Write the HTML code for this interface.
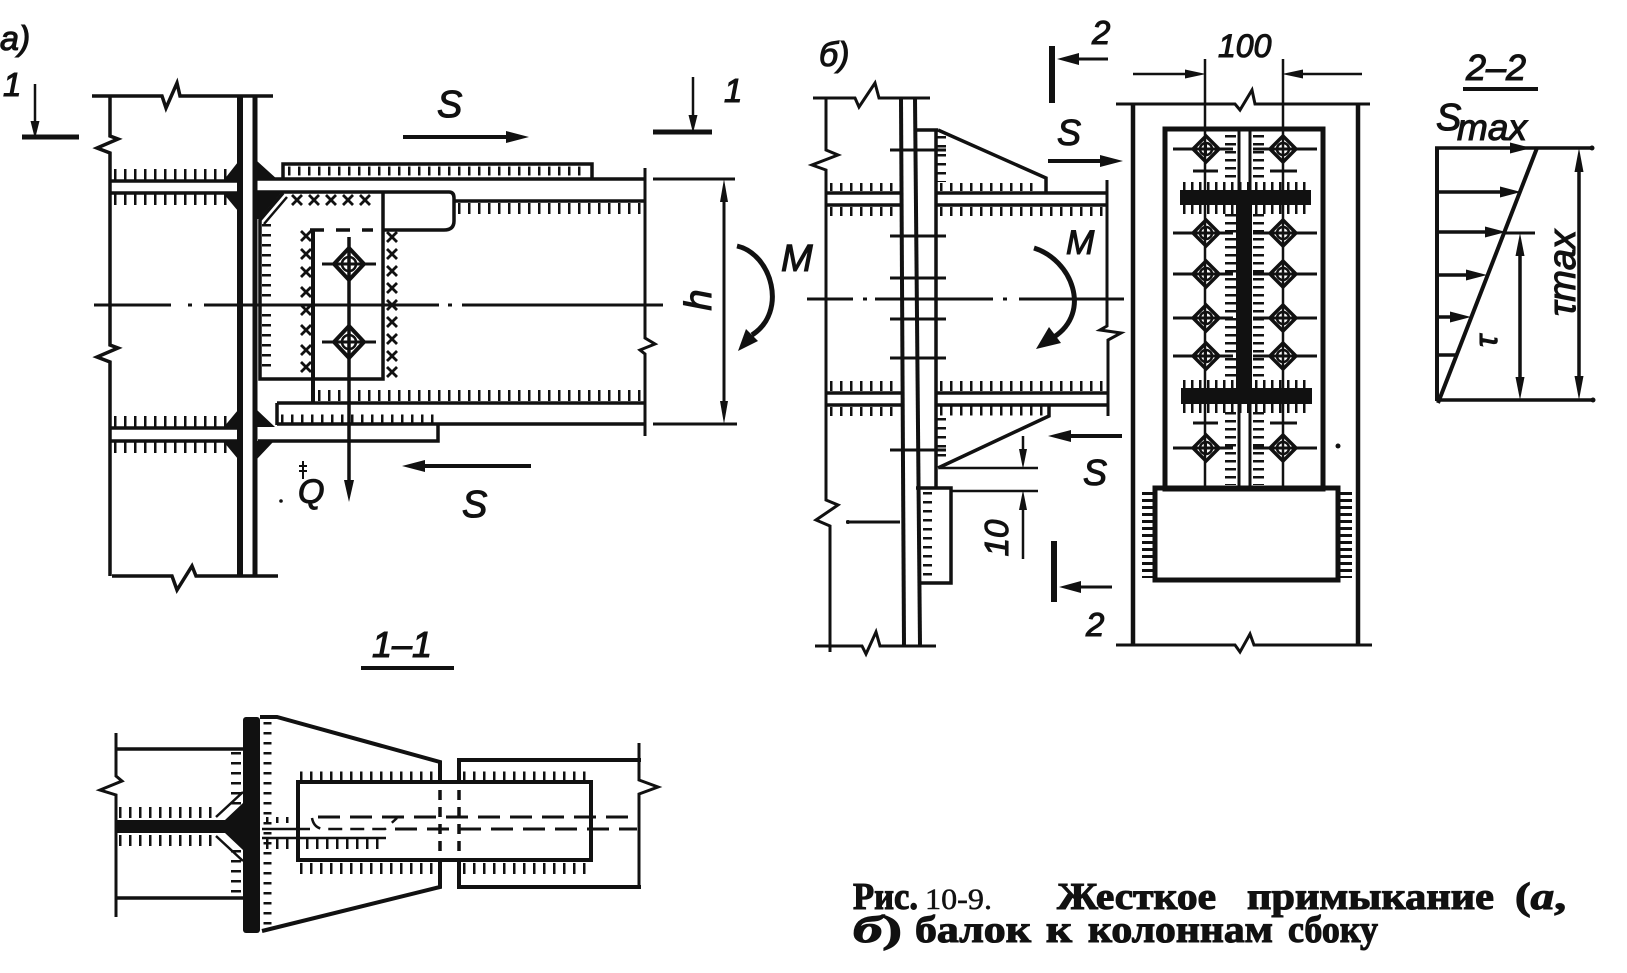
<!DOCTYPE html>
<html><head><meta charset="utf-8"><style>
html,body{margin:0;padding:0;background:#fff;}
svg{display:block;}
.t{font-family:"Liberation Sans","DejaVu Sans",sans-serif;font-style:italic;fill:#111;stroke:#111;stroke-width:1.1;}
.c{font-family:"Liberation Serif","DejaVu Serif",serif;font-weight:bold;fill:#111;stroke:#111;stroke-width:1.1;}
.cr{font-family:"Liberation Serif","DejaVu Serif",serif;font-weight:normal;fill:#111;stroke:#111;stroke-width:0.5;}
</style></head><body>
<svg width="1627" height="973" viewBox="0 0 1627 973" xmlns="http://www.w3.org/2000/svg">
<defs>
<g id="bA"><path d="M0,-16 L15,0 L0,16 L-15,0 Z" stroke-width="4"/><circle r="7" stroke-width="2.5"/><path d="M-7,0 H7 M0,-7 V7" stroke-width="2"/></g>
<g id="bB"><path d="M0,-13 L13,0 L0,13 L-13,0 Z" stroke-width="3.5"/><circle r="6" stroke-width="2.5"/><path d="M-6,0 H6 M0,-6 V6" stroke-width="2"/></g>
<path id="xm" d="M-5,-5 L5,5 M5,-5 L-5,5" stroke-width="2.8"/>
</defs>
<rect width="1627" height="973" fill="#fff"/>

<g stroke="#111" stroke-width="3.5" fill="none" stroke-linejoin="miter">

<!-- ================= PART a) ================= -->
<line x1="35" y1="84" x2="35" y2="124" stroke-width="2.5"/>
<line x1="22" y1="137" x2="79" y2="137" stroke-width="5"/>
<line x1="693" y1="77" x2="693" y2="118" stroke-width="2.5"/>
<line x1="653" y1="132" x2="712" y2="132" stroke-width="5"/>
<line x1="403" y1="137" x2="510" y2="137" stroke-width="4"/>

<path d="M92,96 H162 L166,108 L177,83 L180,96 H273"/>
<path d="M110,96 V136 L118,139 L97,148 L110,153 V345 L118,348 L97,357 L110,362 V576"/>
<path d="M112,576 H172 L177,590 L192,566 L196,576 H278"/>
<line x1="240" y1="96" x2="240" y2="576" stroke-width="6"/>
<line x1="255" y1="96" x2="255" y2="576" stroke-width="5"/>
<path d="M110,181 H237 M110,193 H237 M110,428 H237 M110,441 H237"/>

<path d="M283,180 V164 H592 V180"/>
<line x1="257" y1="179" x2="645" y2="179"/>
<path d="M257,192 H449 Q454,192 454,198 V221 Q454,230 444,230 H383"/>
<line x1="454" y1="201" x2="645" y2="201"/>
<path d="M283,193 L260,220 V379 H383 V192"/>
<line x1="287" y1="197" x2="264" y2="224" stroke-width="2.5"/>
<line x1="310" y1="230" x2="373" y2="230" stroke-dasharray="14 12"/>
<line x1="313" y1="230" x2="313" y2="403" stroke-width="4"/>
<line x1="322" y1="264" x2="376" y2="264" stroke-width="3"/>
<line x1="322" y1="342" x2="376" y2="342" stroke-width="3"/>
<line x1="349" y1="237" x2="349" y2="484" stroke-width="3.5"/>
<use href="#bA" x="349" y="264"/>
<use href="#bA" x="349" y="342"/>
<use href="#xm" x="297" y="200"/><use href="#xm" x="314" y="200"/><use href="#xm" x="331" y="200"/><use href="#xm" x="348" y="200"/><use href="#xm" x="365" y="200"/>
<use href="#xm" x="306" y="236"/><use href="#xm" x="306" y="254"/><use href="#xm" x="306" y="272"/><use href="#xm" x="306" y="292"/><use href="#xm" x="306" y="310"/><use href="#xm" x="306" y="330"/><use href="#xm" x="306" y="350"/><use href="#xm" x="306" y="367"/>
<use href="#xm" x="392" y="237"/><use href="#xm" x="392" y="254"/><use href="#xm" x="392" y="271"/><use href="#xm" x="392" y="288"/><use href="#xm" x="392" y="305"/><use href="#xm" x="392" y="322"/><use href="#xm" x="392" y="339"/><use href="#xm" x="392" y="356"/><use href="#xm" x="392" y="372"/>

<g stroke-width="3">
<line x1="94" y1="305" x2="171" y2="305"/>
<line x1="188" y1="305" x2="192" y2="305"/>
<line x1="204" y1="305" x2="439" y2="305"/>
<line x1="448" y1="305" x2="452" y2="305"/>
<line x1="462" y1="305" x2="663" y2="305"/>
</g>

<line x1="277" y1="403" x2="645" y2="403"/>
<line x1="277" y1="403" x2="277" y2="425"/>
<line x1="277" y1="424" x2="645" y2="424"/>
<path d="M258,441 H438 V424"/>
<path d="M645,168 V338 L655,344 L640,350 L645,354 V436" stroke-width="3"/>

<g stroke-width="3">
<line x1="653" y1="179" x2="735" y2="179"/>
<line x1="653" y1="424" x2="737" y2="424"/>
<line x1="724" y1="198" x2="724" y2="405"/>
</g>
<path d="M737,246 C772,254 788,312 752,335" stroke-width="5"/>
<line x1="418" y1="466" x2="531" y2="466" stroke-width="4"/>
<path d="M303,461 V479 M299,466 H307 M299,471 H307" stroke-width="2"/>

<!-- ================= SECTION 1-1 ================= -->
<line x1="361" y1="668" x2="454" y2="668" stroke-width="4"/>
<path d="M116,733 V776 L122,781 L100,790 L116,795 V917" stroke-width="3"/>
<line x1="116" y1="749" x2="243" y2="749"/>
<line x1="116" y1="898" x2="243" y2="898"/>
<line x1="216" y1="817" x2="243" y2="792" stroke-width="2.5"/>
<line x1="216" y1="836" x2="243" y2="861" stroke-width="2.5"/>
<path d="M260,717 H277 L440,762 V782" stroke-width="4"/>
<path d="M262,931 L440,887 V860" stroke-width="4"/>
<rect x="298" y="782" width="293" height="78" stroke-width="4"/>
<path d="M641,760 H459 V782 M459,860 V887 H641" stroke-width="4"/>
<path d="M639,743 V780 L658,787 L639,794 V887" stroke-width="3"/>
<g stroke-dasharray="10 7" stroke-width="3.5">
<line x1="440" y1="790" x2="440" y2="858"/>
<line x1="459" y1="790" x2="459" y2="858"/>
</g>
<g stroke-dasharray="22 10" stroke-width="3">
<line x1="318" y1="817" x2="637" y2="817"/>
<line x1="395" y1="829" x2="637" y2="829"/>
</g>
<path d="M312,818 Q314,829 325,829 H385 L397,818" stroke-width="2.5" stroke-dasharray="14 8"/>
<line x1="262" y1="829" x2="310" y2="829" stroke-width="2.5"/>
<line x1="262" y1="838" x2="386" y2="838" stroke-width="2.5"/>

<!-- ================= PART b) ================= -->
<line x1="1052" y1="46" x2="1052" y2="103" stroke-width="6"/>
<line x1="1108" y1="59" x2="1072" y2="59" stroke-width="3"/>
<line x1="1054" y1="541" x2="1054" y2="602" stroke-width="6"/>
<line x1="1112" y1="587" x2="1074" y2="587" stroke-width="3"/>

<path d="M813,98 H855 L859,107 L875,83 L879,98 H930" stroke-width="3"/>
<path d="M826,98 V150 L838,155 L812,165 L826,170 V500 L838,505 L816,520 L830,526 V652" stroke-width="3"/>
<path d="M815,646 H862 L866,654 L876,632 L880,646 H936" stroke-width="3"/>
<line x1="901" y1="98" x2="904" y2="646" stroke-width="4"/>
<line x1="915" y1="98" x2="920" y2="646" stroke-width="4"/>
<path d="M915,130 H938 M936,130 V488 M916,488 H951 V583 H920"/>
<g stroke-width="3">
<line x1="890" y1="150" x2="946" y2="150"/>
<line x1="890" y1="236" x2="946" y2="236"/>
<line x1="890" y1="278" x2="946" y2="278"/>
<line x1="890" y1="319" x2="946" y2="319"/>
<line x1="890" y1="358" x2="946" y2="358"/>
<line x1="890" y1="450" x2="946" y2="450"/>
<line x1="846" y1="522" x2="900" y2="522"/>
</g>
<path d="M938,130 L1046,178 V193"/>
<path d="M1049,405 V416 L938,468"/>
<path d="M826,193 H901 M826,205 H901 M826,393 H901 M826,405 H901"/>
<path d="M936,193 H1107 M936,205 H1107 M936,393 H1107 M936,405 H1107"/>
<path d="M1107,180 V326 L1100,330 L1121,333 L1108,340 V416" stroke-width="3"/>
<g stroke-width="2.5">
<line x1="940" y1="468" x2="1038" y2="468"/>
<line x1="951" y1="491" x2="1038" y2="491"/>
<line x1="1023" y1="436" x2="1023" y2="452"/>
<line x1="1023" y1="507" x2="1023" y2="559"/>
</g>
<g stroke-width="3">
<line x1="807" y1="299" x2="853" y2="299"/>
<line x1="863" y1="299" x2="867" y2="299"/>
<line x1="875" y1="299" x2="993" y2="299"/>
<line x1="1003" y1="299" x2="1007" y2="299"/>
<line x1="1019" y1="299" x2="1124" y2="299"/>
</g>
<path d="M1034,248 C1072,260 1092,312 1054,337" stroke-width="5"/>
<line x1="1048" y1="161" x2="1104" y2="161" stroke-width="4"/>
<line x1="1122" y1="436" x2="1066" y2="436" stroke-width="4"/>

<!-- ================= SECTION 2-2 column ================= -->
<path d="M1116,104 H1235 L1240,110 L1252,90 L1255,104 H1370" stroke-width="3"/>
<path d="M1116,645 H1235 L1240,652 L1250,634 L1254,645 H1372" stroke-width="3"/>
<line x1="1133" y1="103" x2="1133" y2="645" stroke-width="4.5"/>
<line x1="1358" y1="103" x2="1358" y2="645" stroke-width="4.5"/>
<g stroke-width="2.5">
<line x1="1205" y1="59" x2="1205" y2="489"/>
<line x1="1283" y1="59" x2="1283" y2="489"/>
<line x1="1133" y1="74" x2="1188" y2="74"/>
<line x1="1300" y1="74" x2="1362" y2="74"/>
</g>
<rect x="1165" y="129" width="158" height="360" stroke-width="5"/>
<line x1="1239" y1="129" x2="1239" y2="489" stroke-width="3"/>
<line x1="1250" y1="129" x2="1250" y2="489" stroke-width="3"/>
<g stroke-width="3">
<line x1="1173" y1="149" x2="1233" y2="149"/><line x1="1253" y1="149" x2="1317" y2="149"/>
<line x1="1173" y1="233" x2="1233" y2="233"/><line x1="1253" y1="233" x2="1317" y2="233"/>
<line x1="1173" y1="274" x2="1233" y2="274"/><line x1="1253" y1="274" x2="1317" y2="274"/>
<line x1="1173" y1="318" x2="1233" y2="318"/><line x1="1253" y1="318" x2="1317" y2="318"/>
<line x1="1173" y1="356" x2="1233" y2="356"/><line x1="1253" y1="356" x2="1317" y2="356"/>
<line x1="1173" y1="448" x2="1233" y2="448"/><line x1="1253" y1="448" x2="1317" y2="448"/>
<line x1="1193" y1="171" x2="1218" y2="171"/><line x1="1270" y1="171" x2="1297" y2="171"/>
<line x1="1193" y1="423" x2="1218" y2="423"/><line x1="1270" y1="423" x2="1297" y2="423"/>
</g>
<use href="#bB" x="1206" y="149"/><use href="#bB" x="1283" y="149"/>
<use href="#bB" x="1206" y="233"/><use href="#bB" x="1283" y="233"/>
<use href="#bB" x="1206" y="274"/><use href="#bB" x="1283" y="274"/>
<use href="#bB" x="1206" y="318"/><use href="#bB" x="1283" y="318"/>
<use href="#bB" x="1206" y="356"/><use href="#bB" x="1283" y="356"/>
<use href="#bB" x="1206" y="448"/><use href="#bB" x="1283" y="448"/>
<rect x="1155" y="488" width="183" height="92" stroke-width="5"/>

<!-- ================= 2-2 diagram ================= -->
<line x1="1463" y1="89" x2="1538" y2="89" stroke-width="4"/>
<line x1="1437" y1="148" x2="1437" y2="401" stroke-width="4"/>
<line x1="1435" y1="148" x2="1592" y2="148" stroke-width="3.5"/>
<line x1="1537" y1="148" x2="1438" y2="403" stroke-width="4"/>
<line x1="1438" y1="400" x2="1593" y2="400" stroke-width="3.5"/>
<g stroke-width="3.5">
<line x1="1437" y1="192" x2="1502" y2="192"/>
<line x1="1437" y1="232" x2="1487" y2="232"/>
<line x1="1437" y1="275" x2="1468" y2="275"/>
<line x1="1437" y1="317" x2="1452" y2="317"/>
<line x1="1437" y1="355" x2="1456" y2="355"/>
<line x1="1505" y1="233" x2="1535" y2="233" stroke-width="3"/>
<line x1="1520" y1="252" x2="1520" y2="381"/>
<line x1="1579" y1="168" x2="1579" y2="380"/>
</g>

<!-- ================= TICKS ================= -->
<g stroke-linecap="butt" stroke-dasharray="2.5 7.5">
<line x1="114" y1="174.5" x2="228" y2="174.5" stroke-width="11"/>
<line x1="114" y1="199.5" x2="228" y2="199.5" stroke-width="11"/>
<line x1="114" y1="421.5" x2="228" y2="421.5" stroke-width="11"/>
<line x1="114" y1="447.5" x2="228" y2="447.5" stroke-width="11"/>
<line x1="288" y1="171" x2="588" y2="171" stroke-width="9"/>
<line x1="458" y1="208.5" x2="642" y2="208.5" stroke-width="11"/>
<line x1="318" y1="395.5" x2="642" y2="395.5" stroke-width="11"/>
<line x1="281" y1="419" x2="436" y2="419" stroke-width="9"/>
<line x1="266.5" y1="224" x2="266.5" y2="372" stroke-width="9"/>
<line x1="119" y1="812.5" x2="214" y2="812.5" stroke-width="11"/>
<line x1="119" y1="840.5" x2="214" y2="840.5" stroke-width="11"/>
<line x1="236" y1="752" x2="236" y2="806" stroke-width="10"/>
<line x1="236" y1="850" x2="236" y2="896" stroke-width="10"/>
<line x1="267.5" y1="722" x2="267.5" y2="928" stroke-width="8"/>
<line x1="300" y1="776" x2="437" y2="776" stroke-width="9"/>
<line x1="463" y1="776" x2="589" y2="776" stroke-width="9"/>
<line x1="300" y1="868.5" x2="437" y2="868.5" stroke-width="11"/>
<line x1="463" y1="868.5" x2="589" y2="868.5" stroke-width="11"/>
<line x1="266" y1="844" x2="384" y2="844" stroke-width="10"/>
<line x1="266" y1="820" x2="292" y2="820" stroke-width="6"/>
<line x1="830" y1="187" x2="898" y2="187" stroke-width="8"/>
<line x1="830" y1="211.5" x2="898" y2="211.5" stroke-width="9"/>
<line x1="830" y1="386" x2="898" y2="386" stroke-width="10"/>
<line x1="830" y1="411.5" x2="898" y2="411.5" stroke-width="9"/>
<line x1="940" y1="187" x2="1040" y2="187" stroke-width="8"/>
<line x1="940" y1="211.5" x2="1104" y2="211.5" stroke-width="9"/>
<line x1="940" y1="386" x2="1104" y2="386" stroke-width="10"/>
<line x1="940" y1="411" x2="1043" y2="411" stroke-width="9"/>
</g>
<g stroke-linecap="butt" stroke-dasharray="2.5 6.5">
<line x1="941.5" y1="136" x2="941.5" y2="182" stroke-width="9"/>
<line x1="941.5" y1="418" x2="941.5" y2="462" stroke-width="9"/>
<line x1="927.5" y1="492" x2="927.5" y2="580" stroke-width="9"/>
</g>
<g stroke-linecap="butt" stroke-dasharray="2.5 5.5">
<line x1="1230.5" y1="135" x2="1230.5" y2="182" stroke-width="11"/>
<line x1="1230.5" y1="214" x2="1230.5" y2="380" stroke-width="11"/>
<line x1="1230.5" y1="412" x2="1230.5" y2="485" stroke-width="11"/>
<line x1="1258.5" y1="135" x2="1258.5" y2="182" stroke-width="11"/>
<line x1="1258.5" y1="214" x2="1258.5" y2="380" stroke-width="11"/>
<line x1="1258.5" y1="412" x2="1258.5" y2="485" stroke-width="11"/>
<line x1="1183" y1="186" x2="1309" y2="186" stroke-width="8"/>
<line x1="1183" y1="209.5" x2="1309" y2="209.5" stroke-width="9"/>
<line x1="1183" y1="384" x2="1310" y2="384" stroke-width="8"/>
<line x1="1183" y1="408.5" x2="1310" y2="408.5" stroke-width="9"/>
</g>
<g stroke-linecap="butt" stroke-dasharray="3 4">
<line x1="1148.5" y1="492" x2="1148.5" y2="578" stroke-width="13"/>
<line x1="1345.5" y1="492" x2="1345.5" y2="578" stroke-width="13"/>
</g>
</g>

<!-- ================= FILLED SHAPES ================= -->
<g fill="#111" stroke="none">
<polygon points="223,181 238,181 238,162"/>
<polygon points="223,193 238,193 238,211"/>
<polygon points="223,428 238,428 238,410"/>
<polygon points="223,441 238,441 238,459"/>
<polygon points="257,161 257,180 278,180"/>
<polygon points="257,193 281,193 259,219 257,219"/>
<polygon points="257,410 257,427 275,427"/>
<polygon points="257,441 257,459 274,441"/>
<polygon points="35,139 30.5,121 39.5,121"/>
<polygon points="693,133 688.5,115 697.5,115"/>
<polygon points="529,137 506,131 506,143"/>
<polygon points="402,466 425,460 425,472"/>
<polygon points="349,502 344,480 354,480"/>
<polygon points="724,179 720,202 728,202"/>
<polygon points="724,424 720,401 728,401"/>
<polygon points="738,351 758,341 746,329"/>
<circle cx="281" cy="501" r="1.8"/>
<rect x="243" y="717" width="17" height="216" rx="3"/>
<rect x="116" y="820" width="127" height="13"/>
<polygon points="225,820 243,803 243,820"/>
<polygon points="225,833 243,850 243,833"/>
<polygon points="1057,59 1079,53 1079,65"/>
<polygon points="1059,587 1081,581 1081,593"/>
<polygon points="1123,161 1100,155 1100,167"/>
<polygon points="1048,436 1071,430 1071,442"/>
<polygon points="1023,469 1019,449 1027,449"/>
<polygon points="1023,490 1019,510 1027,510"/>
<polygon points="1036,349 1049,327 1061,343"/>
<polygon points="1206,74 1185,69.5 1185,78.5"/>
<polygon points="1282,74 1303,69.5 1303,78.5"/>
<rect x="1236" y="200" width="16" height="192"/>
<rect x="1180" y="190" width="131" height="15"/>
<rect x="1181" y="388" width="131" height="16"/>
<circle cx="1338" cy="446" r="2.5"/>
<circle cx="848" cy="522" r="2"/>
<polygon points="1531,148 1510,142.5 1510,153.5"/>
<polygon points="1521,192 1500,186.5 1500,197.5"/>
<polygon points="1506,232 1485,226.5 1485,237.5"/>
<polygon points="1487,275 1466,269.5 1466,280.5"/>
<polygon points="1471,317 1450,311.5 1450,322.5"/>
<polygon points="1520,233 1515.5,256 1524.5,256"/>
<polygon points="1520,400 1515.5,377 1524.5,377"/>
<polygon points="1579,148 1574.5,172 1583.5,172"/>
<polygon points="1579,400 1574.5,376 1583.5,376"/>
<circle cx="1592" cy="148" r="2.5"/>
<circle cx="1593" cy="400" r="2.5"/>
</g>

<!-- ================= LABELS ================= -->
<text class="t" x="0" y="50" font-size="34">а)</text>
<text class="t" x="3" y="96" font-size="33">1</text>
<text class="t" x="724" y="102" font-size="33">1</text>
<text class="t" x="437" y="117" font-size="38">S</text>
<text class="t" x="781" y="271" font-size="38">M</text>
<text class="t" transform="translate(711,300) rotate(-90)" text-anchor="middle" font-size="38">h</text>
<text class="t" x="298" y="503" font-size="34">Q</text>
<text class="t" x="462" y="517" font-size="38">S</text>
<text class="t" x="372" y="657" font-size="36">1–1</text>

<text class="t" x="819" y="66" font-size="34">б)</text>
<text class="t" x="1092" y="44" font-size="33">2</text>
<text class="t" x="1086" y="636" font-size="33">2</text>
<text class="t" x="1057" y="145" font-size="36">S</text>
<text class="t" x="1066" y="254" font-size="34">M</text>
<text class="t" x="1083" y="485" font-size="36">S</text>
<text class="t" transform="translate(1008,538) rotate(-90)" text-anchor="middle" font-size="33">10</text>
<text class="t" x="1218" y="57" font-size="32">100</text>

<text class="t" x="1466" y="80" font-size="36">2–2</text>
<text class="t" x="1436" y="130" font-size="38">S</text>
<text class="t" x="1457" y="140" font-size="37">max</text>
<text class="t" transform="translate(1497,341) rotate(-90)" text-anchor="middle" font-size="32">τ</text>
<text class="t" transform="translate(1575,273) rotate(-90)" text-anchor="middle" font-size="38">τmax</text>

<!-- caption -->
<text class="c" x="853" y="909" font-size="38" textLength="65" lengthAdjust="spacingAndGlyphs">Рис.</text>
<text class="cr" x="925" y="909" font-size="30" textLength="67" lengthAdjust="spacingAndGlyphs">10-9.</text>
<text class="c" x="1057" y="909" font-size="38" textLength="159" lengthAdjust="spacingAndGlyphs">Жесткое</text>
<text class="c" x="1247" y="909" font-size="38" textLength="247" lengthAdjust="spacingAndGlyphs">примыкание</text>
<text class="c" x="1515" y="909" font-size="38" textLength="51" lengthAdjust="spacingAndGlyphs">(<tspan font-style="italic">а</tspan>,</text>
<text class="c" x="853" y="942" font-size="38" textLength="49" lengthAdjust="spacingAndGlyphs"><tspan font-style="italic">б</tspan>)</text>
<text class="c" x="915" y="942" font-size="38" textLength="116" lengthAdjust="spacingAndGlyphs">балок</text>
<text class="c" x="1046" y="942" font-size="38" textLength="26" lengthAdjust="spacingAndGlyphs">к</text>
<text class="c" x="1088" y="942" font-size="38" textLength="185" lengthAdjust="spacingAndGlyphs">колоннам</text>
<text class="c" x="1288" y="942" font-size="38" textLength="90" lengthAdjust="spacingAndGlyphs">сбоку</text>
</svg>
</body></html>
